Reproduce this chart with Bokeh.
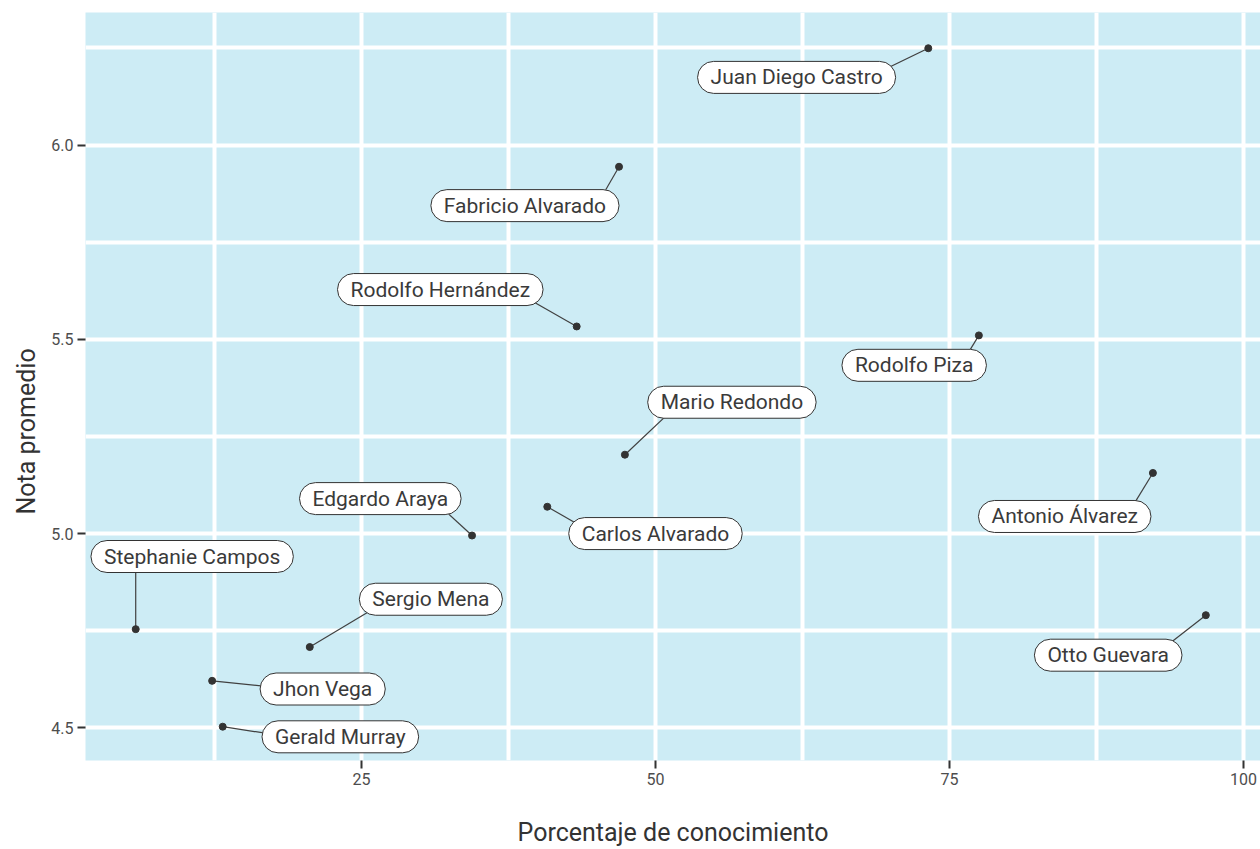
from bokeh.plotting import figure
from bokeh.models import Label, FixedTicker, ColumnDataSource, Range1d, Title
from bokeh.embed import file_html
from bokeh.resources import INLINE
import math

# ---- data ----
names = ["Juan Diego Castro", "Fabricio Alvarado", "Rodolfo Hernández", "Rodolfo Piza",
         "Mario Redondo", "Antonio Álvarez", "Carlos Alvarado", "Edgardo Araya",
         "Stephanie Campos", "Sergio Mena", "Otto Guevara", "Jhon Vega", "Gerald Murray"]
conocimiento = [73.2, 46.9, 43.3, 77.5, 47.4, 92.3, 40.8, 34.4, 5.8, 20.6, 96.8, 12.3, 13.2]
nota = [6.249, 5.944, 5.533, 5.510, 5.203, 5.156, 5.069, 4.995, 4.754, 4.708, 4.790, 4.621, 4.503]
# label anchor positions (repelled labels), data units
label_x = [62.0, 38.9, 31.7, 72.0, 56.5, 84.8, 50.0, 26.6, 10.6, 30.9, 88.5, 21.7, 23.2]
label_y = [6.174, 5.844, 5.628, 5.433, 5.338, 5.044, 5.000, 5.090, 4.941, 4.831, 4.687, 4.600, 4.477]

x_ticks = [25, 50, 75, 100]
x_minor = [12.5, 37.5, 62.5, 87.5]
y_ticks = [4.5, 5.0, 5.5, 6.0]
y_minor = [4.75, 5.25, 5.75, 6.25]

x_title = "Porcentaje de conocimiento"
y_title = "Nota promedio"

# ---- layout ----
W, H = 1260, 849
BL, BR, BT, BB = 85, 0, 12, 86
X0, X1 = 1.53, 101.45
Y0, Y1 = 4.416, 6.341
FONT = "Roboto"
LABEL_FS = 21

p = figure(width=W, height=H, output_backend="svg", toolbar_location=None,
           x_range=Range1d(X0, X1), y_range=Range1d(Y0, Y1),
           min_border_left=BL, min_border_right=BR, min_border_top=BT, min_border_bottom=BB)
p.outline_line_color = None
p.background_fill_color = "#cdecf5"
p.border_fill_color = "white"

p.xaxis.ticker = FixedTicker(ticks=x_ticks, minor_ticks=x_minor)
p.yaxis.ticker = FixedTicker(ticks=y_ticks, minor_ticks=y_minor)
p.yaxis.major_label_overrides = {4.5: "4.5", 5.0: "5.0", 5.5: "5.5", 6.0: "6.0"}

for g in (p.xgrid, p.ygrid):
    g.grid_line_color = "white"
    g.grid_line_width = 4
    g.minor_grid_line_color = "white"
    g.minor_grid_line_width = 4

for ax in (p.xaxis, p.yaxis):
    ax.axis_line_color = None
    ax.major_tick_line_color = "#333333"
    ax.major_tick_line_width = 2
    ax.major_tick_out = 8
    ax.major_tick_in = 0
    ax.minor_tick_line_color = None
    ax.major_label_text_font = FONT
    ax.major_label_text_font_size = "16px"
    ax.major_label_text_color = "#4d4d4d"
    ax.axis_label_text_font = FONT
    ax.axis_label_text_font_size = "25px"
    ax.axis_label_text_font_style = "normal"
    ax.axis_label_text_color = "#333333"
    ax.major_label_standoff = 4

p.xaxis.axis_label = x_title
p.xaxis.axis_label_standoff = 30

# y title as a side title, shifted along the axis like the reference
p.add_layout(Title(text=y_title, align="left", offset=246, standoff=16,
                   text_font=FONT, text_font_size="25px", text_font_style="normal",
                   text_color="#333333"), "left")

# ---- connector segments: from point to nearest point of rounded label box ----
fw = W - BL - BR
fh = H - BT - BB
sx = fw / (X1 - X0)
sy = fh / (Y1 - Y0)
ex, ey = [], []
for n, px, py, lx, ly in zip(names, conocimiento, nota, label_x, label_y):
    hw = 0.48 * LABEL_FS * len(n) / 2 + 12
    r = 14
    L = max(hw - r - 12, 0)
    dx = (px - lx) * sx
    dy = (py - ly) * sy
    qx = min(max(dx, -L), L)
    vx, vy = dx - qx, dy
    d = math.hypot(vx, vy) or 1.0
    endx = qx + r * vx / d
    endy = r * vy / d
    ex.append(lx + endx / sx)
    ey.append(ly + endy / sy)

src = ColumnDataSource(dict(x=conocimiento, y=nota, ex=ex, ey=ey, name=names))
p.segment(x0="x", y0="y", x1="ex", y1="ey", source=src, line_color="#404040", line_width=1.2)
p.scatter(x="x", y="y", source=src, size=7, color="#333333")

for n, lx, ly in zip(names, label_x, label_y):
    p.add_layout(Label(x=lx, y=ly, text=n, text_align="center", text_baseline="middle",
                       text_font=FONT, text_font_size=f"{LABEL_FS}px", text_color="#3a3a3a",
                       background_fill_color="white", background_fill_alpha=1.0,
                       border_line_color="#333333", border_line_width=1,
                       padding=dict(left=13, right=13, top=4, bottom=4),
                       border_radius=16))

open("out.html", "w").write(file_html(p, INLINE))
